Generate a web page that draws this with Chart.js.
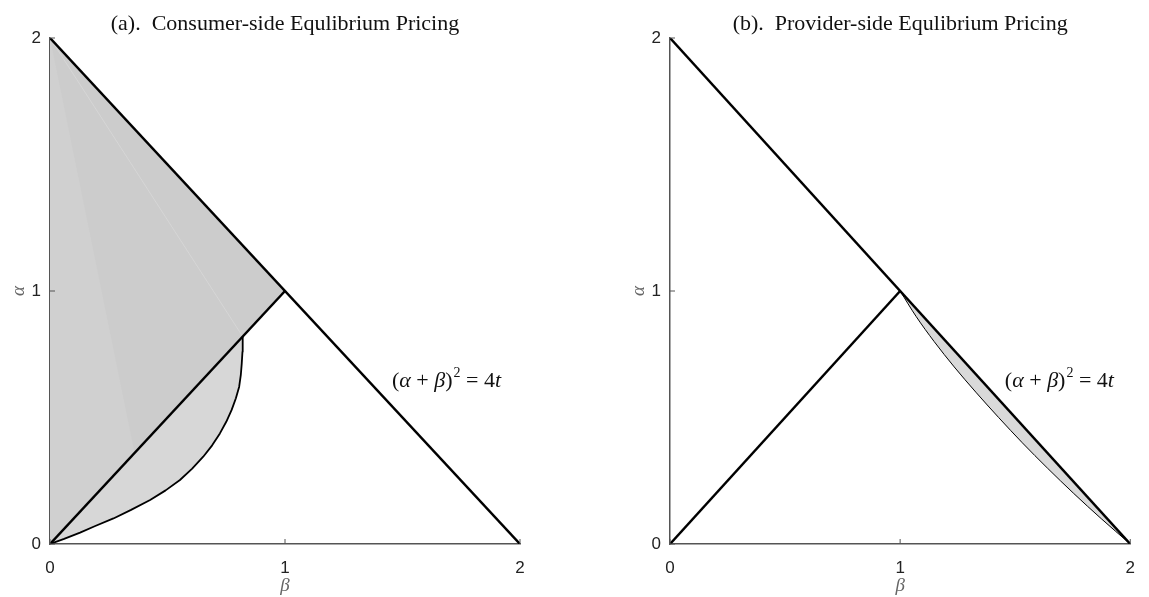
<!DOCTYPE html>
<html>
<head>
<meta charset="utf-8">
<script src="https://cdn.jsdelivr.net/npm/chart.js@4.4.0/dist/chart.umd.min.js"></script>
<style>
  body { margin: 0; background: #fff; }
  .panel { position: absolute; top: 0; }
</style>
</head>
<body>
<div class="panel" style="left:0"><canvas id="consumerChart" width="575" height="597"></canvas></div>
<div class="panel" style="left:575px"><canvas id="providerChart" width="574" height="597"></canvas></div>
<script>
// axis ticks
const axisTicks = [0, 1, 2];

// alpha + beta = 2 boundary
const boundaryBeta = [0, 2];
const boundaryAlpha = [2, 0];

// alpha = beta diagonal
const diagBeta = [0, 1];
const diagAlpha = [0, 1];

// consumer side: shaded triangle and the lower curve
const consumerRegionBeta = [0, 0, 1, 0];
const consumerRegionAlpha = [0, 2, 1, 0];
const consumerWedgeBeta = [0, 0, 0.36, 0];
const consumerWedgeAlpha = [2, 0, 0.36, 2];
const consumerCurveBeta = [0, 0.060, 0.128, 0.190, 0.270, 0.345, 0.426, 0.492, 0.553, 0.605, 0.652,
    0.690, 0.723, 0.750, 0.773, 0.791, 0.805, 0.812, 0.816, 0.819, 0.820];
const consumerCurveAlpha = [0, 0.020, 0.045, 0.070, 0.101, 0.135, 0.174, 0.212, 0.253, 0.298, 0.345,
    0.390, 0.437, 0.483, 0.530, 0.576, 0.622, 0.668, 0.714, 0.760, 0.820];
const faintBeta = [0, 0.82];
const faintAlpha = [2, 0.82];

// provider side: curve below the boundary from (1,1) to (2,0)
const providerCurveBeta = [1.000, 1.069, 1.148, 1.235, 1.329, 1.428, 1.531, 1.640, 1.754, 1.874, 2.000];
const providerCurveAlpha = [1.00, 0.90, 0.80, 0.70, 0.60, 0.50, 0.40, 0.30, 0.20, 0.10, 0.00];

// where the equation label sits (data coords)
const labelBeta = 1.455;
const labelAlpha = 0.648;

function pts(bs, as) {
    return bs.map((b, i) => ({ x: b, y: as[i] }));
}

const decorPlugin = {
    id: 'decor',
    afterDraw(chart, args, opts) {
        const { ctx, chartArea, scales: { x, y } } = chart;
        ctx.save();
        // inward tick marks
        ctx.strokeStyle = '#555';
        ctx.lineWidth = 1;
        axisTicks.forEach(v => {
            const px = x.getPixelForValue(v);
            ctx.beginPath();
            ctx.moveTo(px, chartArea.bottom);
            ctx.lineTo(px, chartArea.bottom - 5);
            ctx.stroke();
            const py = y.getPixelForValue(v);
            ctx.beginPath();
            ctx.moveTo(chartArea.left, py);
            ctx.lineTo(chartArea.left + 5, py);
            ctx.stroke();
        });

        // panel title
        ctx.fillStyle = '#111';
        ctx.font = '22px "Liberation Serif"';
        ctx.textAlign = 'center';
        ctx.textBaseline = 'middle';
        ctx.fillText(opts.title, (chartArea.left + chartArea.right) / 2, 24);

        // equation label
        const parts = [
            ['(', false], ['α', true], [' + ', false], ['β', true], [')', false],
            ['2', 'sup'], [' = 4', false], ['t', true]
        ];
        let lx = x.getPixelForValue(labelBeta);
        const ly = y.getPixelForValue(labelAlpha);
        ctx.textAlign = 'left';
        ctx.textBaseline = 'alphabetic';
        parts.forEach(([txt, style]) => {
            if (style === 'sup') {
                ctx.font = '14px "Liberation Serif"';
                ctx.fillText(txt, lx + 1, ly - 3);
                lx += ctx.measureText(txt).width + 1;
            } else {
                ctx.font = (style ? 'italic ' : '') + '22px "Liberation Serif"';
                ctx.fillText(txt, lx, ly + 7);
                lx += ctx.measureText(txt).width;
            }
        });
        ctx.restore();
    }
};

function lineSet(data, width, color, order) {
    return {
        data: data,
        showLine: true,
        borderColor: color || '#000',
        borderWidth: width,
        pointRadius: 0,
        fill: false,
        order: order || 1
    };
}

function curveSet(data, width, target, color, smooth) {
    return {
        data: data,
        showLine: true,
        borderColor: '#000',
        borderWidth: width,
        borderJoinStyle: 'round',
        cubicInterpolationMode: smooth ? 'monotone' : 'default',
        pointRadius: 0,
        fill: target,
        backgroundColor: color,
        order: 1
    };
}

function fillSet(data, color, order) {
    return {
        data: data,
        showLine: true,
        borderWidth: 0,
        borderColor: 'rgba(0,0,0,0)',
        backgroundColor: color,
        pointRadius: 0,
        fill: 'shape',
        order: order
    };
}

function makeOptions(title, padLeft, padRight) {
    return {
        responsive: false,
        devicePixelRatio: 1,
        animation: false,
        layout: { padding: { left: padLeft, right: padRight, top: 38, bottom: 0 } },
        plugins: {
            legend: { display: false },
            tooltip: { enabled: false },
            decor: { title: title }
        },
        scales: {
            x: {
                type: 'linear',
                min: 0,
                max: 2,
                afterFit: s => { s.height = 53; },
                grid: { display: false, drawTicks: false },
                border: { display: true, color: '#555', width: 1.5 },
                ticks: {
                    stepSize: 1,
                    padding: 14,
                    color: '#222',
                    font: { family: 'Liberation Sans', size: 17 },
                    callback: v => Number.isInteger(v) ? v : ''
                },
                title: {
                    display: true,
                    text: 'β',
                    color: '#666',
                    padding: { top: 0, bottom: 0 },
                    font: { family: 'Liberation Serif', style: 'italic', size: 19 }
                }
            },
            y: {
                type: 'linear',
                min: 0,
                max: 2,
                afterFit: s => { s.width = 50; },
                grid: { display: false, drawTicks: false },
                border: { display: true, color: '#555', width: 1.5 },
                ticks: {
                    stepSize: 1,
                    padding: 9,
                    color: '#222',
                    font: { family: 'Liberation Sans', size: 17 },
                    callback: v => Number.isInteger(v) ? v : ''
                },
                title: {
                    display: true,
                    text: 'α',
                    color: '#666',
                    padding: { top: 8, bottom: 0 },
                    font: { family: 'Liberation Serif', style: 'italic', size: 19 }
                }
            }
        }
    };
}

const consumerRegion = pts(consumerRegionBeta, consumerRegionAlpha);
const consumerWedge = pts(consumerWedgeBeta, consumerWedgeAlpha);

new Chart(document.getElementById('consumerChart'), {
    type: 'scatter',
    data: {
        datasets: [
            lineSet(pts(boundaryBeta, boundaryAlpha), 2.5),
            lineSet(pts(diagBeta, diagAlpha), 2.5),
            curveSet(pts(consumerCurveBeta, consumerCurveAlpha), 1.8, 1, '#d7d7d7', false),
            lineSet(pts(faintBeta, faintAlpha), 0.8, '#d8d8d8', 2),
            fillSet(consumerWedge, '#d0d0d0', 4),
            fillSet(consumerRegion, '#cccccc', 5)
        ]
    },
    options: makeOptions('(a).  Consumer-side Equlibrium Pricing', 0, 55),
    plugins: [decorPlugin]
});

new Chart(document.getElementById('providerChart'), {
    type: 'scatter',
    data: {
        datasets: [
            lineSet(pts(boundaryBeta, boundaryAlpha), 2.5),
            lineSet(pts(diagBeta, diagAlpha), 2.5),
            curveSet(pts(providerCurveBeta, providerCurveAlpha), 1, 0, '#d9d9d9', true)
        ]
    },
    options: makeOptions('(b).  Provider-side Equlibrium Pricing', 45, 9),
    plugins: [decorPlugin]
});
</script>
</body>
</html>
